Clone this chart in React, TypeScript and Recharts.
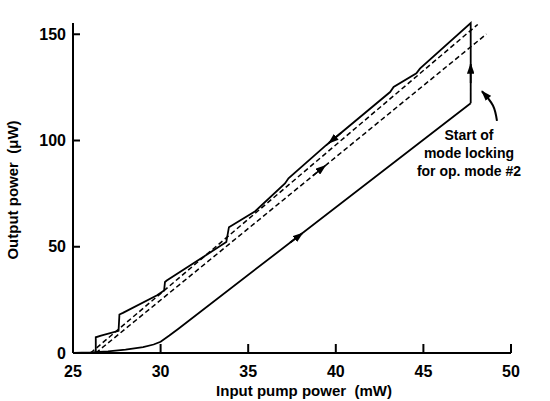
import { ComposedChart, Line, XAxis, YAxis, Label } from "recharts";

// rising sweep (lower solid branch), then jump, then falling sweep with steps
const upSweepX = [25, 26, 27, 28, 29, 29.6, 30, 30.5, 31, 47.7];
const upSweepY = [0, 0.3, 0.8, 1.6, 2.8, 4, 5.3, 8.2, 11.3, 117.5];

const downSweepX = [
  47.7, 47.7, 44.8, 44.6, 43.3, 43.1, 39.45, 37.3, 37.1, 35.4, 33.9, 33.75,
  30.35, 30.25, 30.2, 29.8, 27.85, 27.65, 27.6, 26.6, 26.3, 26.3, 25,
];
const downSweepY = [
  117.5, 155.3, 133.8, 131.6, 125.2, 122.8, 97.8, 82.2, 79.8, 66.7, 59.2, 52.2,
  34.1, 33.4, 29.4, 27.2, 18.9, 18.1, 10.4, 8.2, 7.4, 0, 0,
];

// dashed fits
const fitAX = [26.0, 48.1];
const fitAY = [0, 154.6];
const fitBX = [26.3, 48.6];
const fitBY = [0, 150.1];

// arrowheads sit at the end of these short segments
const arrowLowerX = [37.4, 38.1];
const arrowLowerY = [52.0, 56.4];
const arrowUpperX = [40.3, 39.6];
const arrowUpperY = [103.6, 98.8];
const arrowFitX = [38.7, 39.4];
const arrowFitY = [83.5, 88.2];
const arrowJumpX = [47.7, 47.7];
const arrowJumpY = [127, 136];
const pointerX = [49.2, 48.97, 48.34];
const pointerY = [109.2, 116.5, 123.2];

const noteLines = ["Start of", "mode locking", "for op. mode #2"];
const xTicks = [25, 30, 35, 40, 45, 50];
const yTicks = [0, 50, 100, 150];

const zip = (xs: number[], ys: number[]) => xs.map((x, i) => ({ x, y: ys[i] }));

const FONT = '"Liberation Sans", Arial, sans-serif';

function YTick(props: any) {
  const { x, y, payload } = props;
  return (
    <g>
      {payload.value !== 0 && (
        <line x1={x} y1={y} x2={x + 7} y2={y} stroke="#000" strokeWidth={2} />
      )}
      <text
        x={x - 7}
        y={y}
        textAnchor="end"
        dominantBaseline="central"
        fontFamily={FONT}
        fontWeight="bold"
        fontSize={16}
        fill="#000"
      >
        {payload.value}
      </text>
    </g>
  );
}

function XTick(props: any) {
  const { x, y, payload } = props;
  return (
    <g>
      {payload.value !== 25 && (
        <line x1={x} y1={y} x2={x} y2={y - 9} stroke="#000" strokeWidth={2} />
      )}
      <text
        x={x}
        y={y + 18}
        textAnchor="middle"
        dominantBaseline="central"
        fontFamily={FONT}
        fontWeight="bold"
        fontSize={16}
        fill="#000"
      >
        {payload.value}
      </text>
    </g>
  );
}

export default function App() {
  const solid = { stroke: "#000", strokeWidth: 1.8, dot: false, activeDot: false, isAnimationActive: false } as const;
  const dashed = { ...solid, strokeWidth: 1.5, strokeDasharray: "5 3" };
  const arrow = { ...solid, markerEnd: "url(#ah)" };

  return (
    <div style={{ position: "absolute", left: 0, top: 0, background: "#fff" }}>
      <ComposedChart
        width={550}
        height={401}
        margin={{ top: 23, right: 39, left: 0, bottom: 0 }}
      >
        <defs>
          <marker
            id="ah"
            viewBox="0 0 10 7"
            refX="9"
            refY="3.5"
            markerWidth="11"
            markerHeight="7.5"
            orient="auto"
            markerUnits="userSpaceOnUse"
          >
            <path d="M0,0 L10,3.5 L0,7 z" fill="#000" />
          </marker>
        </defs>
        <XAxis
          type="number"
          dataKey="x"
          domain={[25, 50]}
          ticks={xTicks}
          height={48}
          tickSize={0}
          tickMargin={0}
          tickLine={false}
          axisLine={{ stroke: "#000", strokeWidth: 2 }}
          tick={<XTick />}
          allowDuplicatedCategory={false}
        >
          <Label
            content={({ viewBox }: any) => (
              <text
                x={viewBox.x + viewBox.width / 2 + 12}
                y={viewBox.y + 37}
                textAnchor="middle"
                dominantBaseline="central"
                fontFamily={FONT}
                fontWeight="bold"
                fontSize={15}
                fill="#000"
              >
                {"Input pump power\u00a0\u00a0(mW)"}
              </text>
            )}
          />
        </XAxis>
        <YAxis
          type="number"
          dataKey="y"
          domain={[0, 150]}
          ticks={yTicks}
          width={73}
          tickSize={0}
          tickMargin={0}
          tickLine={false}
          axisLine={{ stroke: "#000", strokeWidth: 2 }}
          tick={<YTick />}
        >
          <Label
            content={({ viewBox }: any) => {
              const cx = viewBox.x + 12;
              const cy = viewBox.y + viewBox.height / 2 + 2;
              return (
                <text
                  x={cx}
                  y={cy}
                  transform={`rotate(-90 ${cx} ${cy})`}
                  textAnchor="middle"
                  dominantBaseline="central"
                  fontFamily={FONT}
                  fontWeight="bold"
                  fontSize={15}
                  fill="#000"
                >
                  {"Output power\u00a0\u00a0(μW)"}
                </text>
              );
            }}
          />
        </YAxis>

        <Line data={zip(fitAX, fitAY)} dataKey="y" {...dashed} />
        <Line data={zip(fitBX, fitBY)} dataKey="y" {...dashed} />
        <Line data={zip(upSweepX, upSweepY)} dataKey="y" {...solid} />
        <Line data={zip(downSweepX, downSweepY)} dataKey="y" {...solid} />

        <Line data={zip(arrowLowerX, arrowLowerY)} dataKey="y" {...arrow} />
        <Line data={zip(arrowUpperX, arrowUpperY)} dataKey="y" {...arrow} />
        <Line data={zip(arrowFitX, arrowFitY)} dataKey="y" {...arrow} strokeWidth={1.5} />
        <Line data={zip(arrowJumpX, arrowJumpY)} dataKey="y" {...arrow} />
        <Line data={zip(pointerX, pointerY)} dataKey="y" type="natural" {...arrow} strokeWidth={2} />

        <text
          x={469}
          y={135}
          textAnchor="middle"
          fontFamily={FONT}
          fontWeight="bold"
          fontSize={14}
          fill="#000"
        >
          {noteLines.map((t, i) => (
            <tspan key={t} x={469} y={140 + i * 18}>
              {t}
            </tspan>
          ))}
        </text>
      </ComposedChart>
    </div>
  );
}
